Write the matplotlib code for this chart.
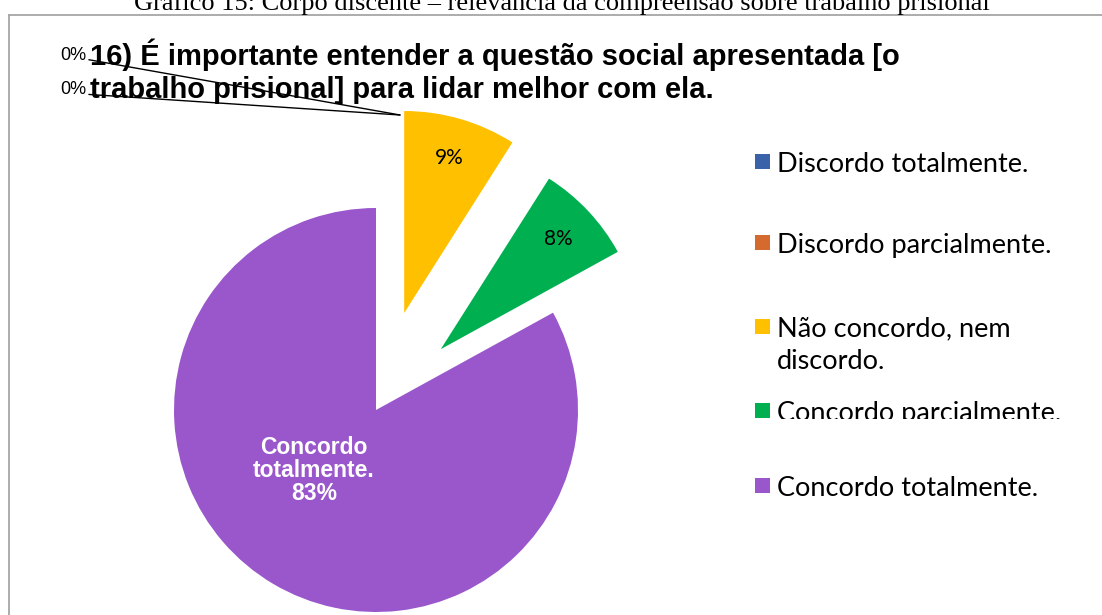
import numpy as np
import matplotlib.pyplot as plt
from matplotlib.patches import Rectangle
from matplotlib.transforms import Bbox, TransformedBbox

categories = ['Discordo totalmente.', 'Discordo parcialmente.',
              'Não concordo, nem\ndiscordo.', 'Concordo parcialmente.',
              'Concordo totalmente.']
values = [0, 0, 9, 8, 83]
colors = ['#3A62A8', '#D46A2E', '#FFC000', '#00B050', '#9A57CC']
explode_frac = [0.5, 0.5, 0.5, 0.44, 0.0]

fig = plt.figure(figsize=(11.02, 6.15), dpi=100)
ax = fig.add_axes([0, 0, 1, 1])

# pie in pixel-like data coords (y up); matplotlib's explode is in data units
cx, cy, r = 376, 205, 202
explode = [e * r for e in explode_frac]
wedges, texts, autotexts = ax.pie(
    values, colors=colors, explode=explode, startangle=90, counterclock=False,
    center=(cx, cy), radius=r, autopct=lambda p: f'{p:.0f}%' if p > 0 else '',
    pctdistance=0.8, frame=True,
    textprops=dict(family='Lato', fontsize=15, color='black'))
ax.set_xlim(0, 1102)
ax.set_ylim(0, 615)
ax.set_aspect('auto')
ax.axis('off')

# label inside the big slice
w = wedges[4]
ang = np.deg2rad((w.theta1 + w.theta2) / 2 - 15)
autotexts[4].set_position((cx + 0.43 * r * np.cos(ang), cy + 0.43 * r * np.sin(ang)))
autotexts[4].set_text('Concordo\ntotalmente.\n83%')
autotexts[4].set(color='white', fontweight='bold', family='Liberation Sans',
                 fontsize=16.5, ha='center', va='center', linespacing=1.0)

# 0% labels with leader lines
for i, ty in zip([0, 1], [560, 525]):
    w = wedges[i]
    ang = np.deg2rad(w.theta1)
    px = cx + (explode[i] + r) * np.cos(ang) + 24
    py = cy + (explode[i] + r) * np.sin(ang) - 8
    ax.annotate(f'{values[i]}%', xy=(px, py), xytext=(60, ty),
                fontsize=13, family='Liberation Sans', va='center', ha='left',
                arrowprops=dict(arrowstyle='-', color='black', lw=1,
                                shrinkA=0, shrinkB=0, relpos=(1.0, 0.25)))

# chart title
ax.text(90, 560, '16) É importante entender a questão social apresentada [o',
        fontsize=21, fontweight='bold', family='Liberation Sans', va='center')
ax.text(90, 525, 'trabalho prisional] para lidar melhor com ela.',
        fontsize=21, fontweight='bold', family='Liberation Sans', va='center')

# caption above the chart box (cut off at top, as in the source)
ax.text(562, 605, 'Grafico 15: Corpo discente – relevância da compreensão sobre trabalho prisional',
        fontsize=19, family='Liberation Serif', ha='center', va='baseline')

# chart border
ax.plot([9, 1102], [600, 600], color='#A6A6A6', lw=1.3)
ax.plot([9, 9], [600, 0], color='#A6A6A6', lw=1.3)

# legend (baselines in data coords)
leg_base = [443, 362, 278, 194, 119]
clip = TransformedBbox(Bbox([[0, 196], [1102, 615]]), ax.transData)
for lab, col, yb in zip(categories, colors, leg_base):
    ax.add_patch(Rectangle((755, yb + 3), 15, 15, color=col, lw=0))
    t = ax.text(777, yb, lab, fontsize=19.5, family='Lato', va='baseline',
                linespacing=1.4)
    if '\n' in lab:
        t.set_va('top')
        t.set_position((777, yb + 21))
    if lab == 'Concordo parcialmente.':
        t.set_clip_box(clip)
        t.set_clip_on(True)

fig.savefig('out.png', dpi=100)
